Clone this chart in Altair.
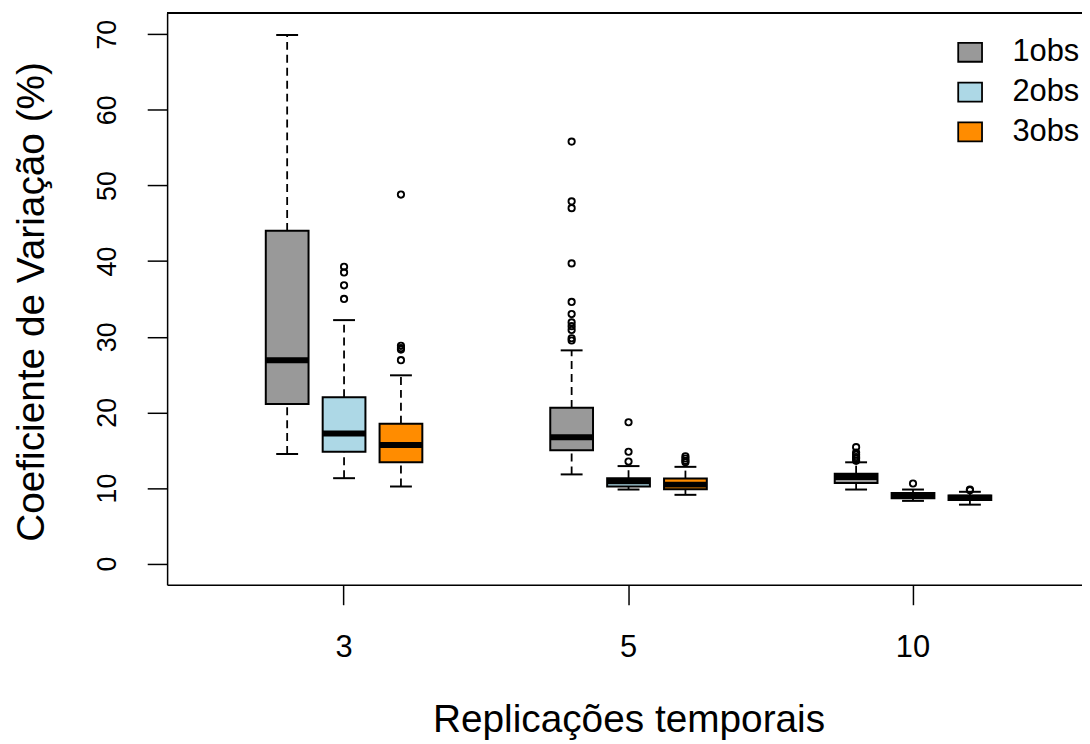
import altair as alt
import pandas as pd

# ---- data ----
groups = ["3", "5", "10"]
series = ["1obs", "2obs", "3obs"]
colors = ["#999999", "#ADD8E6", "#FF8C00"]

# one entry per box, ordered group-major (3: 1obs,2obs,3obs; 5: ...; 10: ...)
lower_whisker = [14.5, 11.3, 10.2, 11.8, 9.8, 9.1, 9.8, 8.3, 7.8]
q1 = [21.1, 14.8, 13.4, 15.0, 10.2, 9.85, 10.65, 8.65, 8.4]
median = [26.9, 17.2, 15.7, 16.7, 10.9, 10.45, 11.45, 9.0, 8.7]
q3 = [44.0, 22.0, 18.5, 20.6, 11.3, 11.25, 11.9, 9.35, 9.0]
upper_whisker = [69.9, 32.2, 24.9, 28.2, 12.9, 12.8, 13.4, 9.8, 9.5]

outliers = [
    [],
    [39.25, 38.5, 36.8, 35.0],
    [48.8, 28.8, 28.5, 28.3, 26.9],
    [55.8, 47.9, 47.0, 39.7, 34.6, 33.0, 31.9, 31.4, 30.9, 29.8, 29.5],
    [18.7, 14.8, 13.5],
    [14.2, 13.9, 13.6, 13.4],
    [15.4, 14.7, 14.4, 14.1, 13.9, 13.6],
    [10.6],
    [9.8, 9.7],
]

y_ticks = [0, 10, 20, 30, 40, 50, 60, 70]

# ---- tables ----
rows = []
out_rows = []
k = 0
for g in groups:
    for s in series:
        rows.append(dict(group=g, series=s, lo=lower_whisker[k], q1=q1[k],
                         med=median[k], q3=q3[k], hi=upper_whisker[k]))
        for v in outliers[k]:
            out_rows.append(dict(group=g, series=s, value=v))
        k += 1
box_df = pd.DataFrame(rows)
out_df = pd.DataFrame(out_rows)

FONT = "Liberation Sans"
W, H = 920, 575
XR = 928  # the plot region continues a little past the right edge of the page

x_enc = alt.X("group:N", sort=groups,
              scale=alt.Scale(range=[0, XR], paddingInner=0, paddingOuter=0.122),
              axis=alt.Axis(title="Replicações temporais", labelAngle=0,
                            tickSize=20, tickWidth=1.5, tickColor="black",
                            domain=True, domainColor="black", domainWidth=1.5,
                            labelFontSize=31, labelFont=FONT, labelColor="black",
                            labelBaseline="alphabetic", labelPadding=52,
                            titleFontSize=39, titleFont=FONT, titleFontWeight="normal",
                            titleColor="black", titleBaseline="alphabetic",
                            titleY=147, titleX=464))
xo_enc = alt.XOffset("series:N", sort=series,
                     scale=alt.Scale(paddingInner=0, paddingOuter=1))
y_scale = alt.Scale(domain=[-2.8, 72.8], nice=False, zero=False)
y_axis = alt.Axis(title="Coeficiente de Variação (%)", values=y_ticks, grid=False,
                  tickSize=20, tickWidth=1.5, tickColor="black",
                  domain=True, domainColor="black", domainWidth=1.5,
                  labelAngle=270, labelAlign="center", labelBaseline="alphabetic",
                  labelPadding=32, labelFontSize=27, labelFont=FONT, labelColor="black",
                  titleAngle=270, titleFontSize=39, titleFont=FONT,
                  titleFontWeight="normal", titleColor="black",
                  titleBaseline="alphabetic", titleAlign="center",
                  titleX=-124, titleY=290)

base = alt.Chart(box_df).encode(x=x_enc, xOffset=xo_enc)

whisk_up = base.mark_rule(color="black", strokeWidth=1.8, strokeDash=[8, 5]).encode(
    y=alt.Y("q3:Q", scale=y_scale, axis=y_axis), y2="hi:Q")
whisk_lo = base.mark_rule(color="black", strokeWidth=1.8, strokeDash=[8, 5]).encode(
    y=alt.Y("lo:Q", scale=y_scale), y2="q1:Q")
cap_up = base.mark_tick(color="black", size=22, thickness=2, opacity=1).encode(
    y=alt.Y("hi:Q", scale=y_scale))
cap_lo = base.mark_tick(color="black", size=22, thickness=2, opacity=1).encode(
    y=alt.Y("lo:Q", scale=y_scale))
boxes = base.mark_bar(stroke="black", strokeWidth=2, opacity=1, width=43).encode(
    y=alt.Y("q1:Q", scale=y_scale), y2="q3:Q",
    color=alt.Color("series:N", sort=series,
                    scale=alt.Scale(domain=series, range=colors),
                    legend=alt.Legend(title=None, orient="none", legendX=792, legendY=24,
                                      symbolType="M-1.26,-1L1.26,-1L1.26,1L-1.26,1Z",
                                      symbolSize=361, symbolStrokeColor="black",
                                      symbolStrokeWidth=1.8, symbolOpacity=1,
                                      labelFontSize=31, labelFont=FONT, labelColor="black",
                                      labelOffset=27, rowPadding=8, padding=0)))
med = base.mark_tick(color="black", size=43, thickness=6, opacity=1).encode(
    y=alt.Y("med:Q", scale=y_scale))
pts = alt.Chart(out_df).mark_point(shape="circle", filled=False, color="black",
                                   size=40, strokeWidth=1.9, opacity=1).encode(
    x=x_enc, xOffset=xo_enc, y=alt.Y("value:Q", scale=y_scale))
top_line = alt.Chart(box_df).mark_rule(color="black", strokeWidth=1.5).encode(
    x=alt.value(0), x2=alt.value(W), y=alt.value(0))

chart = alt.layer(whisk_up, whisk_lo, cap_up, cap_lo, boxes, med, pts, top_line).properties(
    width=W, height=H,
    autosize=alt.AutoSizeParams(type="none"),
    padding={"left": 160, "top": 3, "right": 0, "bottom": 158},
).configure_view(stroke=None).configure(background="white")

chart.save("out.html", embed_options={"renderer": "svg", "actions": False})
